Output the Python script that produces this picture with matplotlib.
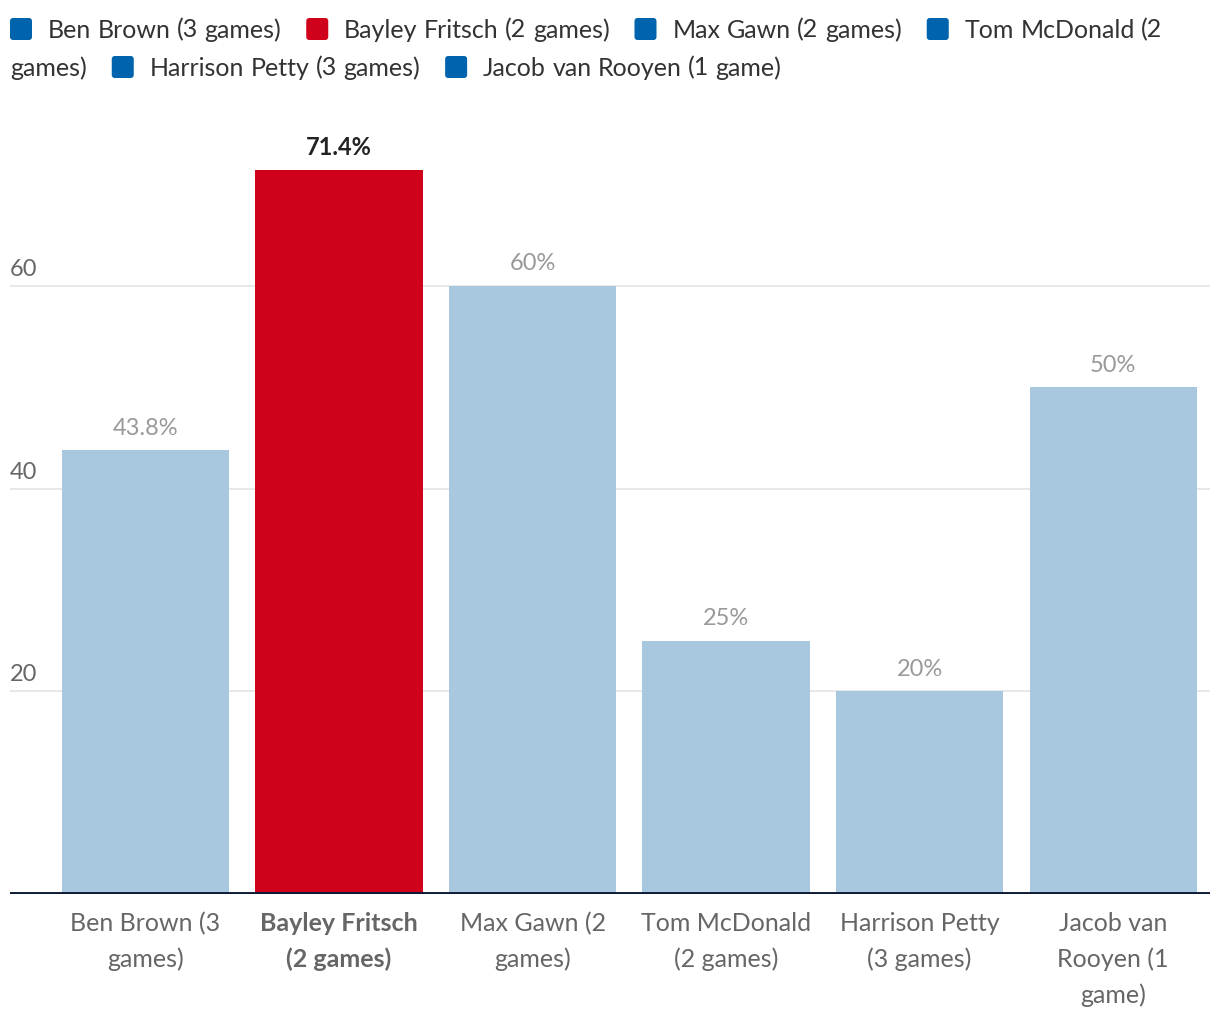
import matplotlib
matplotlib.use("Agg")
import matplotlib.pyplot as plt
from matplotlib.patches import FancyBboxPatch
import numpy as np

plt.rcParams['font.family'] = ['Lato', 'DejaVu Sans']

# data
players = ["Ben Brown (3 games)", "Bayley Fritsch (2 games)", "Max Gawn (2 games)",
           "Tom McDonald (2 games)", "Harrison Petty (3 games)", "Jacob van Rooyen (1 game)"]
tickLabels = ["Ben Brown (3\ngames)", "Bayley Fritsch\n(2 games)", "Max Gawn (2\ngames)",
              "Tom McDonald\n(2 games)", "Harrison Petty\n(3 games)", "Jacob van\nRooyen (1\ngame)"]
values = [43.8, 71.4, 60, 25, 20, 50]
valueLabels = ["43.8%", "71.4%", "60%", "25%", "20%", "50%"]
highlight = 1
yTicks = [20, 40, 60]

W, H = 1220, 1020
fig = plt.figure(figsize=(W / 100, H / 100), dpi=100)

# main axes, positions in pixels
axLeft, axRight, axTop, axBottom = 10, 1210, 135, 895
ax = fig.add_axes([axLeft / W, (H - axBottom) / H, (axRight - axLeft) / W, (axBottom - axTop) / H])

x = np.arange(len(values))
colors = ["#d0021b" if i == highlight else "#a8c8e0" for i in range(len(values))]
ax.bar(x, values, width=0.865, color=colors, zorder=2)
ax.set_xlim(-0.7, 5.5)
ax.set_ylim(0, 75)

for yv in yTicks:
    ax.axhline(yv, color="#e6e6e6", lw=1.3, zorder=1)
    ax.annotate(str(yv), (0, yv), xycoords=("axes fraction", "data"),
                xytext=(0, 5), textcoords="offset points",
                ha="left", va="bottom", fontsize=17, color="#666666")
ax.axhline(0, color="#0d1a36", lw=2.8, zorder=3)

for i, (v, lab) in enumerate(zip(values, valueLabels)):
    bold = i == highlight
    ax.annotate(lab, (i, v), xytext=(0, 9), textcoords="offset points",
                ha="center", va="bottom", fontsize=17,
                color="#222222" if bold else "#999999",
                fontweight="bold" if bold else "normal")

ax.set_yticks([])
ax.set_xticks(x)
ax.set_xticklabels(tickLabels, fontsize=18, color="#666666", linespacing=1.65, va="top")
ax.get_xticklabels()[highlight].set_fontweight("bold")
ax.tick_params(axis="x", length=0, pad=12)
for s in ax.spines.values():
    s.set_visible(False)

# legend drawn by hand as a wrapping flow of words
lax = fig.add_axes([0, 0, 1, 1])
lax.set_xlim(0, W)
lax.set_ylim(H, 0)
lax.axis("off")
renderer = fig.canvas.get_renderer()
legSize = 18

def textWidth(s):
    t = lax.text(0, 0, s, fontsize=legSize)
    w = t.get_window_extent(renderer).width
    t.remove()
    return w

spaceW = textWidth("a b") - textWidth("ab")
rowY = [30, 68]
row = 0
cx = 10
maxX = 1212
sq = 22
for i, name in enumerate(players):
    words = name.split(" ")
    firstW = textWidth(words[0])
    if cx + sq + 16 + firstW > maxX:
        row += 1
        cx = 10
    col = "#d0021b" if i == highlight else "#0063ae"
    lax.add_patch(FancyBboxPatch((cx + 3, rowY[row] - sq / 2 + 3), sq - 6, sq - 6,
                                 boxstyle="round,pad=3", fc=col, ec="none"))
    cx += sq + 16
    for j, w in enumerate(words):
        ww = textWidth(w)
        if j > 0:
            if cx + spaceW + ww > maxX:
                row += 1
                cx = 10
            else:
                cx += spaceW
        lax.text(cx, rowY[row], w, fontsize=legSize, color="#333333", ha="left", va="center")
        cx += ww
    cx += 25

fig.savefig("out.png", dpi=100, facecolor="white")
